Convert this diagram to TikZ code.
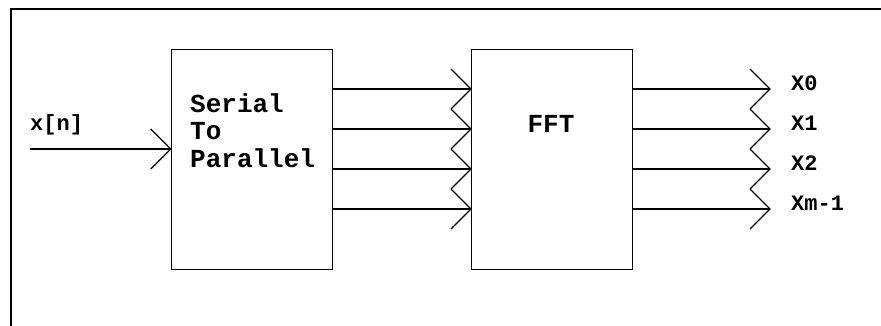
\documentclass[tikz,border=0pt]{standalone}
\usepackage{fontspec}
\setmonofont{Liberation Mono}
\begin{document}
\begin{tikzpicture}[x=1pt,y=-1pt,
  blk/.style={draw,line width=1.3pt,minimum width=161pt,minimum height=220pt,inner sep=0pt,anchor=north west},
  lbl/.style={font=\ttfamily\bfseries\fontsize{22}{24}\selectfont,inner sep=0pt,anchor=base west},
  boxtxt/.style={font=\ttfamily\bfseries\fontsize{26}{28}\selectfont,inner sep=0pt,anchor=base west},
  wire/.style={line width=1.3pt},
  tipx/.style={line width=1.3pt}]
\useasboundingbox (0,0) rectangle (881,325);
\begin{scope}
\clip (0,0) rectangle (881,325);
\draw[line width=2pt] (10.5,9) rectangle (900,345);
\end{scope}
\node[blk] (sp) at (170.7,49) {};
\node[blk] (fft) at (471,49) {};
\node[boxtxt] (sp1) at (190,112) {Serial};
\node[boxtxt] (sp2) at (190,139.5) {To};
\node[boxtxt] (sp3) at (190,167.5) {Parallel};
\node[boxtxt,anchor=base] (ffttxt) at (551,132) {FFT};
% input
\coordinate (in) at (30,149);
\coordinate (inend) at (sp.west |- in);
\node[lbl] (xn) at (30,130) {x[n]};
\draw[wire] (in) -- (inend);
\draw[tipx] ([shift={(-20,-20)}]inend) -- (inend) -- ([shift={(-20,20)}]inend);
% S2P to FFT
\foreach \i/\y in {0/89,1/129,2/169,3/209}{
  \coordinate (a\i) at (sp.east |- 0,\y);
  \coordinate (b\i) at (fft.west |- 0,\y);
  \draw[wire] (a\i) -- (b\i);
  \draw[tipx] ([shift={(-20,-20)}]b\i) -- (b\i) -- ([shift={(-20,20)}]b\i);
}
% outputs
\foreach \i/\y/\t in {0/89/X0,1/129/X1,2/169/X2,3/209/Xm-1}{
  \coordinate (c\i) at (fft.east |- 0,\y);
  \coordinate (d\i) at (770,\y);
  \draw[wire] (c\i) -- (d\i);
  \draw[tipx] ([shift={(-20,-20)}]d\i) -- (d\i) -- ([shift={(-20,20)}]d\i);
  \node[lbl] (o\i) at (791,\y+1) {\t};
}
\end{tikzpicture}
\end{document}
